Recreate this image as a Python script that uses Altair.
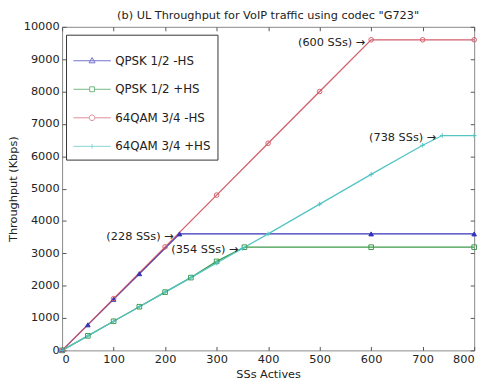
import altair as alt
import pandas as pd

# ---- data ----
names = ["QPSK 1/2 -HS", "QPSK 1/2 +HS", "64QAM 3/4 -HS", "64QAM 3/4 +HS"]
colors = ["#3434b8", "#3c9a4c", "#d25f6c", "#55c4c4"]
marker_shapes = ["triangle-up", "square", "circle", "M-1,0H1M0,-1V1"]
legend_shapes = [
    "M-1,0H1M0,-0.17L0.16,0.11L-0.16,0.11Z",
    "M-1,0H-0.13M0.13,0H1M-0.13,-0.13H0.13V0.13H-0.13Z",
    "M-1,0H-0.15M0.15,0H1M0.15,0A0.15,0.15,0,1,1,-0.15,0A0.15,0.15,0,1,1,0.15,0Z",
    "M-1,0H1M0,-0.12V0.12",
]

qpsk_nohs_x = [0, 50, 100, 150, 228, 600, 800]
qpsk_nohs_y = [0, 790, 1580, 2370, 3600, 3600, 3600]
qpsk_hs_x = [0, 50, 100, 150, 200, 250, 300, 354, 600, 800]
qpsk_hs_y = [0, 450, 900, 1350, 1800, 2250, 2750, 3190, 3190, 3190]
qam_nohs_x = [0, 100, 200, 300, 400, 500, 600, 700, 800]
qam_nohs_y = [0, 1600, 3200, 4800, 6400, 8000, 9600, 9600, 9600]
qam_hs_x = [0, 50, 100, 150, 200, 250, 300, 350, 400, 500, 600, 700, 738, 800]
qam_hs_y = [0, 450, 900, 1350, 1800, 2250, 2700, 3150, 3600, 4520, 5440, 6340, 6640, 6640]

ann_x = [228, 354, 600, 738]
ann_y = [3600, 3190, 9600, 6640]
ann_text = ["(228 SSs) \u2192", "(354 SSs) \u2192", "(600 SSs) \u2192", "(738 SSs) \u2192"]

x_ticks = list(range(0, 801, 100))
y_ticks = list(range(0, 10001, 1000))

title_text = '(b) UL Throughput for VoIP traffic using codec "G723"'
FONT = "DejaVu Sans"
W, H = 419, 329

rows = []
for name, xs, ys in zip(names,
                        [qpsk_nohs_x, qpsk_hs_x, qam_nohs_x, qam_hs_x],
                        [qpsk_nohs_y, qpsk_hs_y, qam_nohs_y, qam_hs_y]):
    for xv, yv in zip(xs, ys):
        rows.append({"series": name, "x": xv, "y": yv})
df = pd.DataFrame(rows)
ann = pd.DataFrame({"x": ann_x, "y": ann_y, "label": ann_text})

xscale = alt.Scale(domain=[0, 800], nice=False, zero=False)
yscale = alt.Scale(domain=[0, 10000], nice=False, zero=False)
cscale = alt.Scale(domain=names, range=colors)

lab_axis_x = alt.Axis(orient="bottom", values=x_ticks, ticks=False, tickSize=0, domain=False,
                      grid=False, labelPadding=3, title="SSs Actives", titlePadding=4)
lab_axis_y = alt.Axis(orient="left", values=y_ticks, ticks=False, tickSize=0, domain=False,
                      grid=False, labelPadding=3, format="d", title="Throughput (Kbps)",
                      titlePadding=5)

def tick_axis(orient, values, offset):
    return alt.Axis(orient=orient, values=values, labels=False, ticks=True, tickSize=4,
                    domain=False, grid=False, title="", offset=offset)

lines = alt.Chart(df).mark_line(strokeWidth=1.3).encode(
    x=alt.X("x:Q", scale=xscale, axis=lab_axis_x),
    y=alt.Y("y:Q", scale=yscale, axis=lab_axis_y),
    color=alt.Color("series:N", scale=cscale, legend=None),
    detail="series:N",
    order="x:Q",
)

points = alt.Chart(df).mark_point(size=22, strokeWidth=1, opacity=1).encode(
    x=alt.X("x:Q", scale=xscale, axis=tick_axis("top", x_ticks, -H)),
    y=alt.Y("y:Q", scale=yscale, axis=tick_axis("right", y_ticks, -W)),
    color=alt.Color("series:N", scale=cscale, legend=None),
    shape=alt.Shape("series:N", scale=alt.Scale(domain=names, range=marker_shapes), legend=None),
    fill=alt.condition(alt.datum.series == names[0], alt.value(colors[0]), alt.value("transparent")),
)

labels = alt.Chart(ann).mark_text(align="right", baseline="middle", dx=-6, dy=3,
                                  font=FONT, fontSize=11.5, color="#222").encode(
    x=alt.X("x:Q", scale=xscale, axis=tick_axis("bottom", x_ticks, -H)),
    y=alt.Y("y:Q", scale=yscale, axis=tick_axis("left", y_ticks, -W)),
    text="label:N",
)

legend_layer = alt.Chart(df).transform_filter("false").mark_point(filled=False, strokeWidth=1).encode(
    x=alt.X("x:Q", scale=xscale, axis=None),
    y=alt.Y("y:Q", scale=yscale, axis=None),
    color=alt.Color("series:N", scale=cscale, sort=names,
                    legend=alt.Legend(orient="none", legendX=4, legendY=8, title=None,
                                      strokeColor="#333", fillColor="white", padding=7,
                                      symbolSize=1444, symbolStrokeWidth=1,
                                      labelFont=FONT, labelFontSize=12, labelColor="#222",
                                      rowPadding=3, labelOffset=4)),
    shape=alt.Shape("series:N", sort=names, scale=alt.Scale(domain=names, range=legend_shapes)),
)

chart = alt.layer(lines, points, labels, legend_layer).resolve_axis(
    x="independent", y="independent"
).resolve_scale(color="independent", shape="independent").properties(
    width=W, height=H,
    title=alt.TitleParams(title_text, font=FONT, fontSize=11.5, fontWeight="normal",
                          color="#222", offset=5, dy=6, anchor="middle"),
    autosize=alt.AutoSizeParams(type="none"),
    padding={"left": 55, "top": 16, "right": 10, "bottom": 30},
).configure_view(stroke="#888", strokeWidth=1).configure_axis(
    labelFont=FONT, labelFontSize=11.5, labelColor="#222", titleFont=FONT, titleFontSize=11.5,
    titleFontWeight="normal", titleColor="#222", tickColor="#555",
)

chart.save("out.html", embed_options={"renderer": "svg", "actions": False})
